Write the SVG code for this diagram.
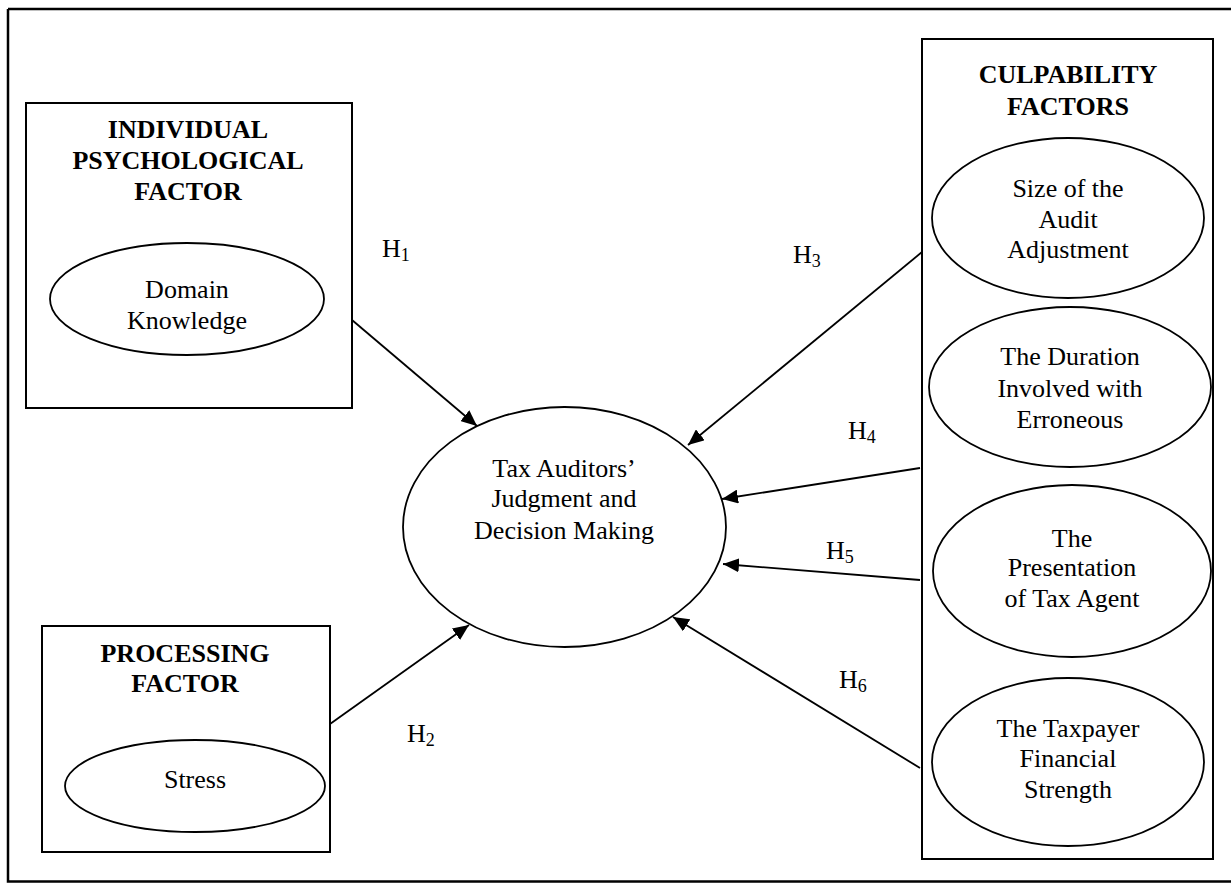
<svg xmlns="http://www.w3.org/2000/svg" width="1231" height="884" viewBox="0 0 1231 884">
<defs>
<marker id="ah" viewBox="0 0 16 14" refX="16" refY="7" markerWidth="16" markerHeight="14" markerUnits="userSpaceOnUse" orient="auto">
<path d="M0,0 L16,7 L0,14 Z" fill="#000"/>
</marker>
<style>
.box{fill:#fff;stroke:#000;stroke-width:2}
.ell{fill:#fff;stroke:#000;stroke-width:1.8}
.t{font-family:"Liberation Serif","Times New Roman",serif;font-size:26px;fill:#000;text-anchor:middle}
.b{font-weight:bold}
.h{font-family:"Liberation Serif","Times New Roman",serif;font-size:26px;fill:#000}
.s{font-size:18px}
.c{stroke:#000;stroke-width:1.8;fill:none;marker-end:url(#ah)}
</style>
</defs>
<rect width="1231" height="884" fill="#fff"/>
<path d="M8,9 H1240 M8,9 V881.5 H1240" fill="none" stroke="#000" stroke-width="2.5"/>

<g id="individual">
<rect class="box" x="26" y="103" width="326" height="305"/>
<text class="t b" x="188" y="138">INDIVIDUAL</text>
<text class="t b" x="188" y="169">PSYCHOLOGICAL</text>
<text class="t b" x="188" y="200">FACTOR</text>
</g>
<g id="domain">
<ellipse class="ell" cx="187" cy="299" rx="137" ry="56"/>
<text class="t" x="187" y="298">Domain</text>
<text class="t" x="187" y="329">Knowledge</text>
</g>

<g id="processing">
<rect class="box" x="42" y="626" width="288" height="226"/>
<text class="t b" x="185" y="662">PROCESSING</text>
<text class="t b" x="185" y="692">FACTOR</text>
</g>
<g id="stress">
<ellipse class="ell" cx="195" cy="786" rx="130" ry="46"/>
<text class="t" x="195" y="788">Stress</text>
</g>

<g id="decision">
<ellipse class="ell" cx="564.5" cy="527" rx="161.5" ry="120"/>
<text class="t" x="564" y="477">Tax Auditors’</text>
<text class="t" x="564" y="507">Judgment and</text>
<text class="t" x="564" y="539">Decision Making</text>
</g>

<g id="culpability">
<rect class="box" x="922" y="39" width="291" height="820"/>
<text class="t b" x="1068" y="83">CULPABILITY</text>
<text class="t b" x="1068" y="115">FACTORS</text>
</g>
<g id="size">
<ellipse class="ell" cx="1068" cy="218" rx="136" ry="80"/>
<text class="t" x="1068" y="197">Size of the</text>
<text class="t" x="1068" y="228">Audit</text>
<text class="t" x="1068" y="258">Adjustment</text>
</g>
<g id="duration">
<ellipse class="ell" cx="1070" cy="387" rx="141" ry="80"/>
<text class="t" x="1070" y="365">The Duration</text>
<text class="t" x="1070" y="397">Involved with</text>
<text class="t" x="1070" y="428">Erroneous</text>
</g>
<g id="presentation">
<ellipse class="ell" cx="1072" cy="571" rx="139" ry="86"/>
<text class="t" x="1072" y="547">The</text>
<text class="t" x="1072" y="576">Presentation</text>
<text class="t" x="1072" y="607">of Tax Agent</text>
</g>
<g id="taxpayer">
<ellipse class="ell" cx="1068" cy="762" rx="136" ry="84"/>
<text class="t" x="1068" y="737">The Taxpayer</text>
<text class="t" x="1068" y="767">Financial</text>
<text class="t" x="1068" y="798">Strength</text>
</g>

<g id="connectors">
<line class="c" x1="352" y1="320" x2="477" y2="426"/>
<line class="c" x1="330" y1="724" x2="469" y2="625"/>
<line class="c" x1="922" y1="252" x2="688" y2="445"/>
<line class="c" x1="920" y1="468" x2="722" y2="499"/>
<line class="c" x1="920" y1="580" x2="723" y2="564"/>
<line class="c" x1="920" y1="768" x2="673" y2="617"/>
<text class="h" x="382" y="257">H<tspan class="s" dy="4">1</tspan></text>
<text class="h" x="407" y="742">H<tspan class="s" dy="4">2</tspan></text>
<text class="h" x="793" y="263">H<tspan class="s" dy="4">3</tspan></text>
<text class="h" x="848" y="439">H<tspan class="s" dy="4">4</tspan></text>
<text class="h" x="826" y="559">H<tspan class="s" dy="4">5</tspan></text>
<text class="h" x="839" y="688">H<tspan class="s" dy="4">6</tspan></text>
</g>
</svg>
